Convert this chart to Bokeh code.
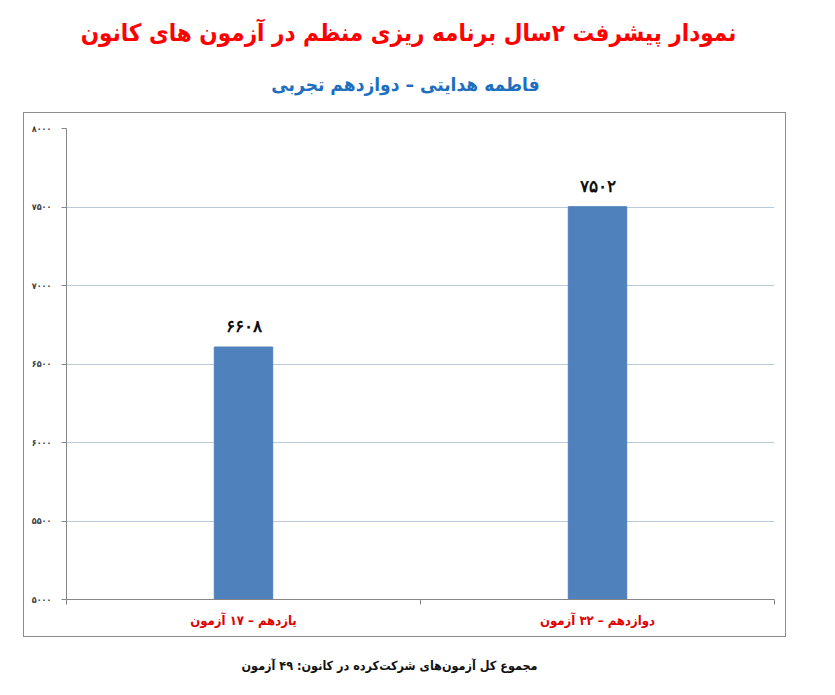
from bokeh.plotting import figure
from bokeh.layouts import column
from bokeh.models import (FixedTicker, Label, ColumnDataSource, LabelSet, Range1d)
from bokeh.embed import file_html
from bokeh.resources import INLINE

# ---- data ----
categories = ["یازدهم – ۱۷ آزمون", "دوازدهم – ۳۲ آزمون"]
scores = [6608, 7502]
y_ticks = [5000, 5500, 6000, 6500, 7000, 7500, 8000]
title_text = "نمودار پیشرفت ۲سال برنامه ریزی منظم در آزمون های کانون"
subtitle_text = "فاطمه هدایتی – دوازدهم تجربی"
footer_text = "مجموع کل آزمون‌های شرکت‌کرده در کانون:  ۴۹ آزمون"

FONT = "DejaVu Sans Condensed"
fa = str.maketrans("0123456789", "۰۱۲۳۴۵۶۷۸۹")
XSHIFT = -42  # compensation for text-figure offset


def to_fa(n):
    return str(n).translate(fa)


def text_fig(w, h):
    f = figure(width=w, height=h, x_range=Range1d(0, w), y_range=Range1d(0, h),
               output_backend="svg", toolbar_location=None,
               x_axis_type=None, y_axis_type=None,
               min_border_left=0, min_border_right=0,
               min_border_top=0, min_border_bottom=0)
    f.outline_line_color = None
    f.grid.visible = False
    return f


# ---- header ----
head = text_fig(835, 112)
head.add_layout(Label(x=408 + XSHIFT, y=80, x_units="screen", y_units="screen",
                      text=title_text, text_align="center", text_baseline="middle",
                      text_font=FONT, text_font_size="24px", text_font_style="bold",
                      text_color="#FF0000"))
head.add_layout(Label(x=405 + XSHIFT, y=29, x_units="screen", y_units="screen",
                      text=subtitle_text, text_align="center", text_baseline="middle",
                      text_font=FONT, text_font_size="19px", text_font_style="bold",
                      text_color="#1F6FC0"))

# ---- chart ----
xs = [i + 0.5 for i in range(len(categories))]
src = ColumnDataSource(dict(x=xs, top=scores, label=[to_fa(v) for v in scores]))

p = figure(width=763, height=525,
           x_range=Range1d(0, len(categories)),
           y_range=Range1d(y_ticks[0], y_ticks[-1]),
           output_backend="svg", toolbar_location=None,
           min_border_left=42, min_border_right=13,
           min_border_top=15, min_border_bottom=39,
           margin=(0, 0, 0, 23),
           styles={"border": "1px solid #8C8C8C"})
p.outline_line_color = None
p.background_fill_color = "white"
p.border_fill_color = "white"

p.vbar(x="x", top="top", bottom=y_ticks[0], width=0.165, source=src,
       fill_color="#4F81BD", line_color="#4F81BD")

p.add_layout(LabelSet(x="x", y="top", text="label", source=src, y_offset=11,
                      text_align="center", text_baseline="bottom",
                      text_font=FONT, text_font_size="17px",
                      text_font_style="bold", text_color="#111111"))

p.yaxis.ticker = FixedTicker(ticks=y_ticks)
p.yaxis.major_label_overrides = {float(t): to_fa(t) for t in y_ticks}
p.yaxis.axis_line_color = "#868686"
p.yaxis.major_tick_line_color = "#868686"
p.yaxis.major_tick_out = 5
p.yaxis.major_tick_in = 0
p.yaxis.minor_tick_line_color = None
p.yaxis.major_label_text_font = FONT
p.yaxis.major_label_text_font_size = "9px"
p.yaxis.major_label_text_font_style = "bold"
p.yaxis.major_label_text_color = "#404040"
p.yaxis.major_label_standoff = 10

p.xaxis.ticker = FixedTicker(ticks=xs, minor_ticks=list(range(len(categories) + 1)))
p.xaxis.major_label_overrides = {float(x): c for x, c in zip(xs, categories)}
p.xaxis.axis_line_color = "#868686"
p.xaxis.major_tick_line_color = None
p.xaxis.major_tick_out = 0
p.xaxis.minor_tick_line_color = "#868686"
p.xaxis.minor_tick_out = 5
p.xaxis.minor_tick_in = 0
p.xaxis.major_label_text_font = FONT
p.xaxis.major_label_text_font_size = "13px"
p.xaxis.major_label_text_font_style = "bold"
p.xaxis.major_label_text_color = "#E00000"
p.xaxis.major_label_standoff = 8

p.xgrid.visible = False
p.ygrid.ticker = FixedTicker(ticks=y_ticks)
p.ygrid.grid_line_color = "#BCC8DC"

# ---- footer ----
foot = text_fig(835, 56)
foot.add_layout(Label(x=391 + XSHIFT, y=28, x_units="screen", y_units="screen",
                      text=footer_text, text_align="center", text_baseline="middle",
                      text_font=FONT, text_font_size="12.5px", text_font_style="bold",
                      text_color="#111111"))

layout = column(head, p, foot, spacing=0)
open("out.html", "w").write(file_html(layout, INLINE))
